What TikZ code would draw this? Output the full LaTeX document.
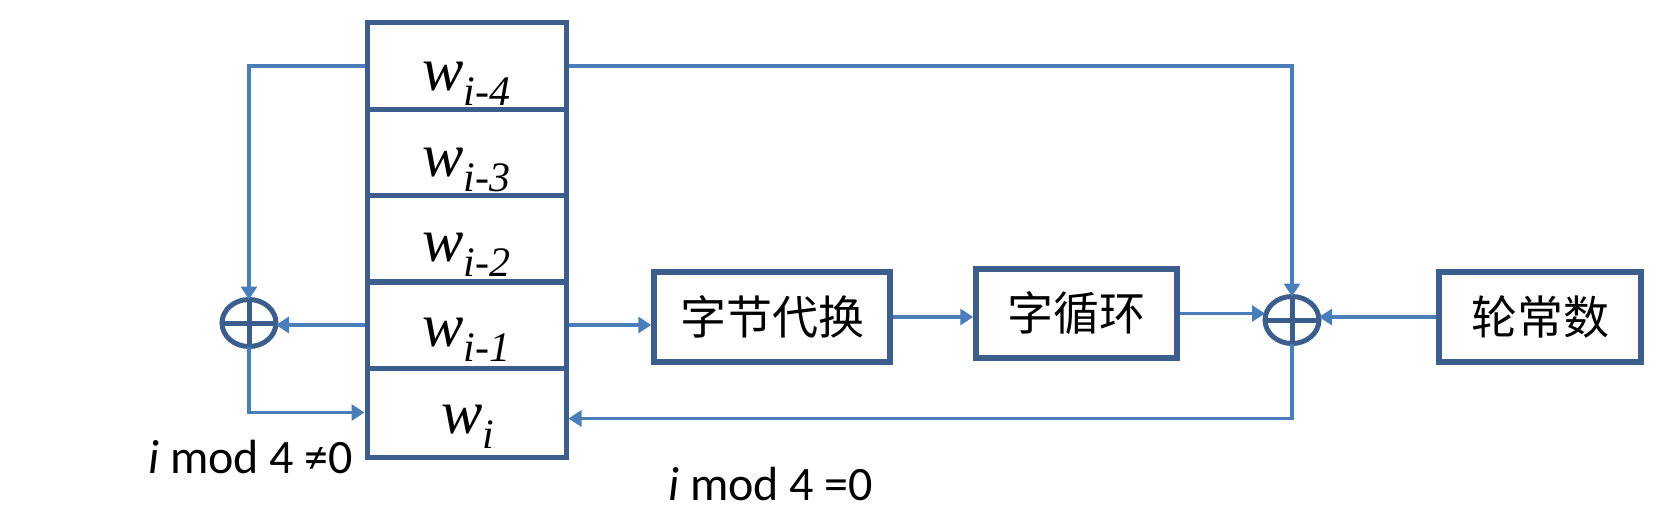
\documentclass[tikz,border=0pt]{standalone}
\usepackage{fontspec}
\setmainfont{Liberation Serif}
\newfontfamily\cjk{Noto Sans CJK SC}
\newfontfamily\lblfont{Carlito}
\usetikzlibrary{arrows.meta,shapes.geometric}
\definecolor{boxblue}{RGB}{60,94,140}
\definecolor{lineblue}{RGB}{74,126,187}
\begin{document}
\begin{tikzpicture}[x=1pt,y=-1pt,
  cell/.style={draw=boxblue,line width=5pt,minimum width=199pt,minimum height=86.5pt,inner sep=0pt},
  blk/.style={draw=boxblue,line width=5.5pt,inner sep=0pt,font=\cjk\fontsize{46}{50}\selectfont},
  xorn/.style={draw=boxblue,line width=5pt,ellipse,minimum width=54pt,minimum height=47pt,inner sep=0pt,outer sep=0pt},
  conn/.style={draw=lineblue,line width=3.5pt,-{Triangle[length=13pt,width=16pt]}},
  wlab/.style={anchor=base,inner sep=0pt,font=\fontsize{62}{62}\selectfont\itshape},
  cond/.style={anchor=base west,inner sep=0pt,font=\lblfont\fontsize{48}{50}\selectfont}]
\useasboundingbox (0,0) rectangle (1660,522);
% register stack
\node[cell] (c4) at (466.5,66) {};
\node[cell] (c3) at (466.5,152.5) {};
\node[cell] (c2) at (466.5,239) {};
\node[cell] (c1) at (466.5,325) {};
\node[cell,minimum height=89pt] (c0) at (466.5,412.5) {};
\node[wlab] (l4) at (466,90) {w\raisebox{-15pt}{\fontsize{42}{42}\selectfont i-4}};
\node[wlab] (l3) at (466,176) {w\raisebox{-15pt}{\fontsize{42}{42}\selectfont i-3}};
\node[wlab] (l2) at (466,261) {w\raisebox{-15pt}{\fontsize{42}{42}\selectfont i-2}};
\node[wlab] (l1) at (466,346) {w\raisebox{-15pt}{\fontsize{42}{42}\selectfont i-1}};
\node[wlab] (l0) at (468,433) {w\raisebox{-15pt}{\fontsize{42}{42}\selectfont i}};
% blocks
\node[blk,minimum width=236pt,minimum height=90pt] (sb) at (772,317) {字节代换};
\node[blk,minimum width=201pt,minimum height=89pt] (sr) at (1076.5,313.5) {字循环};
\node[blk,minimum width=202pt,minimum height=90pt] (rc) at (1540,317) {轮常数};
% xor nodes
\node[xorn] (xl) at (249,323) {};
\node[xorn] (xr) at (1292,320) {};
\draw[boxblue,line width=5pt] (xl.north)--(xl.south) (xl.west)--(xl.east);
\draw[boxblue,line width=5pt] (xr.north)--(xr.south) (xr.west)--(xr.east);
% connectors
\draw[conn] (c4.west) -| (xl.north);
\draw[conn] (c1.west) -- (c1.west -| xl.east);
\draw[conn] (xl.south) |- (c0.west);
\draw[conn] (c1.east) -- (c1.east -| sb.west);
\draw[conn] (sb.east) -- (sb.east -| sr.west);
\draw[conn] (sr.east) -- (sr.east -| xr.west);
\draw[conn] (rc.west) -- (rc.west -| xr.east);
\draw[conn] (c4.east) -| (xr.north);
\draw[conn] (xr.south) |- ([yshift=-6pt]c0.east);
% conditions
\node[cond] (k1) at (148,473) {{\itshape i} mod 4 ≠0};
\node[cond] (k2) at (668,500) {{\itshape i} mod 4 =0};
\end{tikzpicture}
\end{document}
